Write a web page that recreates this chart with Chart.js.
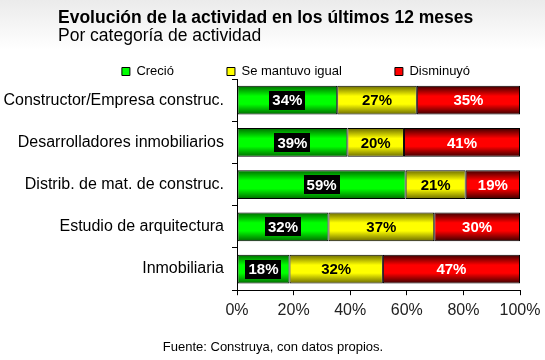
<!DOCTYPE html>
<html>
<head>
<meta charset="utf-8">
<script src="https://cdn.jsdelivr.net/npm/chart.js@4/dist/chart.umd.min.js"></script>
<style>
  html, body { margin: 0; padding: 0; }
  body { width: 545px; height: 360px; overflow: hidden; position: relative;
         background: linear-gradient(#ebebeb 0px, #ffffff 50px, #ffffff 360px);
         font-family: "Liberation Sans", Arial, sans-serif; }
  #wrap { position: absolute; left: 0; top: 0; width: 545px; height: 360px; }
  .t1 { position: absolute; left: 58px; top: 7px; font-size: 17.5px; font-weight: bold; color: #000; white-space: nowrap; }
  .t2 { position: absolute; left: 58px; top: 25px; font-size: 17.5px; color: #000; white-space: nowrap; }
</style>
</head>
<body>
<div id="wrap"><canvas id="c" width="545" height="360"></canvas></div>
<div class="t1">Evolución de la actividad en los últimos 12 meses</div>
<div class="t2">Por categoría de actividad</div>
<script>
const categories = ["Constructor/Empresa construc.", "Desarrolladores inmobiliarios", "Distrib. de mat. de construc.", "Estudio de arquitectura", "Inmobiliaria"];
const seriesNames = ["Creció", "Se mantuvo igual", "Disminuyó"];
const crecio = [34, 39, 59, 32, 18];
const igual = [27, 20, 21, 37, 32];
const disminuyo = [35, 41, 19, 30, 47];
const xTicks = [0, 20, 40, 60, 80, 100];
const footerText = 'Fuente: Construya, con datos propios.';

const raw = [crecio, igual, disminuyo];
const totals = categories.map((_, i) => crecio[i] + igual[i] + disminuyo[i]);
const share = raw.map(arr => arr.map((v, i) => v / totals[i] * 100));

const flat = ["#00e000", "#ffff00", "#ff0000"];
const dark = ["#006a00", "#6a6a00", "#3a0000"];
const bright = ["#00ff00", "#ffff00", "#ff0000"];
const BAR_PCT = 0.68;
const FONT = '"Liberation Sans", Arial, sans-serif';

function gradFor(di) {
  return function(ctx) {
    const chart = ctx.chart;
    const ys = chart.scales && chart.scales.y;
    if (!ys || ctx.type !== 'data' || !isFinite(ys.height)) return flat[di];
    const c = ys.getPixelForValue(ctx.dataIndex);
    const h = ys.height / categories.length * BAR_PCT;
    const g = chart.ctx.createLinearGradient(0, c - h / 2, 0, c + h / 2);
    g.addColorStop(0, dark[di]);
    g.addColorStop(0.36, bright[di]);
    g.addColorStop(0.64, bright[di]);
    g.addColorStop(1, dark[di]);
    return g;
  };
}

const labelPlugin = {
  id: 'segLabels',
  afterLayout(chart) {
    if (chart.legend) { chart.legend.left += 36; chart.legend.right += 36; }
    const foot = chart.boxes.find(b => b.options && b.options.text === footerText);
    if (foot) { foot.left += 26; }
  },
  afterDatasetsDraw(chart) {
    const ctx = chart.ctx;
    ctx.save();
    ctx.font = 'bold 15px ' + FONT;
    ctx.textAlign = 'center';
    ctx.textBaseline = 'middle';
    chart.data.datasets.forEach((ds, di) => {
      const meta = chart.getDatasetMeta(di);
      meta.data.forEach((bar, i) => {
        const txt = raw[di][i] + '%';
        const cx = (bar.x + bar.base) / 2;
        const cy = bar.y;
        const w = ctx.measureText(txt).width;
        if (di === 0) {
          ctx.fillStyle = '#000';
          ctx.fillRect(Math.round(cx - w / 2 - 3), Math.round(cy - 9.5), Math.round(w + 6), 19);
          ctx.fillStyle = '#fff';
        } else if (di === 1) {
          ctx.fillStyle = '#000';
        } else {
          ctx.fillStyle = '#fff';
        }
        ctx.fillText(txt, cx, cy + 1);
      });
    });
    ctx.restore();
  }
};

new Chart(document.getElementById('c'), {
  type: 'bar',
  data: {
    labels: categories,
    datasets: seriesNames.map((name, di) => ({
      label: name,
      data: share[di],
      backgroundColor: gradFor(di),
      borderColor: '#000',
      borderWidth: 1,
      borderSkipped: false,
      categoryPercentage: 1,
      barPercentage: BAR_PCT
    }))
  },
  options: {
    indexAxis: 'y',
    responsive: false,
    animation: false,
    layout: { padding: { top: 12, right: 25, left: 0, bottom: 0 } },
    plugins: {
      tooltip: { enabled: false },
      title: { display: false },
      subtitle: {
        display: true,
        position: 'bottom',
        text: footerText,
        color: '#000',
        font: { family: FONT, size: 13, weight: 'normal' },
        padding: { top: 13, bottom: 5 }
      },
      legend: {
        position: 'top',
        maxHeight: 67,
        labels: {
          boxWidth: 8,
          boxHeight: 8,
          padding: 53,
          color: '#000',
          font: { family: FONT, size: 13 },
          generateLabels: () => seriesNames.map((n, i) => ({
            text: n, fillStyle: bright[i], strokeStyle: '#000', lineWidth: 1,
            hidden: false, datasetIndex: i, fontColor: '#000'
          }))
        }
      }
    },
    scales: {
      x: {
        stacked: true,
        min: 0, max: 100,
        afterBuildTicks: (s) => { s.ticks = xTicks.map(v => ({ value: v })); },
        afterFit: (s) => { s.paddingRight = 0; s.paddingLeft = 0; },
        ticks: {
          callback: v => v + '%',
          color: '#222',
          font: { family: FONT, size: 16 },
          padding: 6,
          maxRotation: 0
        },
        grid: { drawOnChartArea: false, tickLength: 5, color: '#000' },
        border: { display: true, color: '#000', width: 1 }
      },
      y: {
        stacked: true,
        afterFit: (s) => { s.width = 237; },
        ticks: {
          color: '#000',
          font: { family: FONT, size: 16 },
          padding: 8
        },
        grid: { drawOnChartArea: false, tickLength: 5, color: '#000', offset: true },
        border: { display: true, color: '#000', width: 1 }
      }
    }
  },
  plugins: [labelPlugin]
});
</script>
</body>
</html>
